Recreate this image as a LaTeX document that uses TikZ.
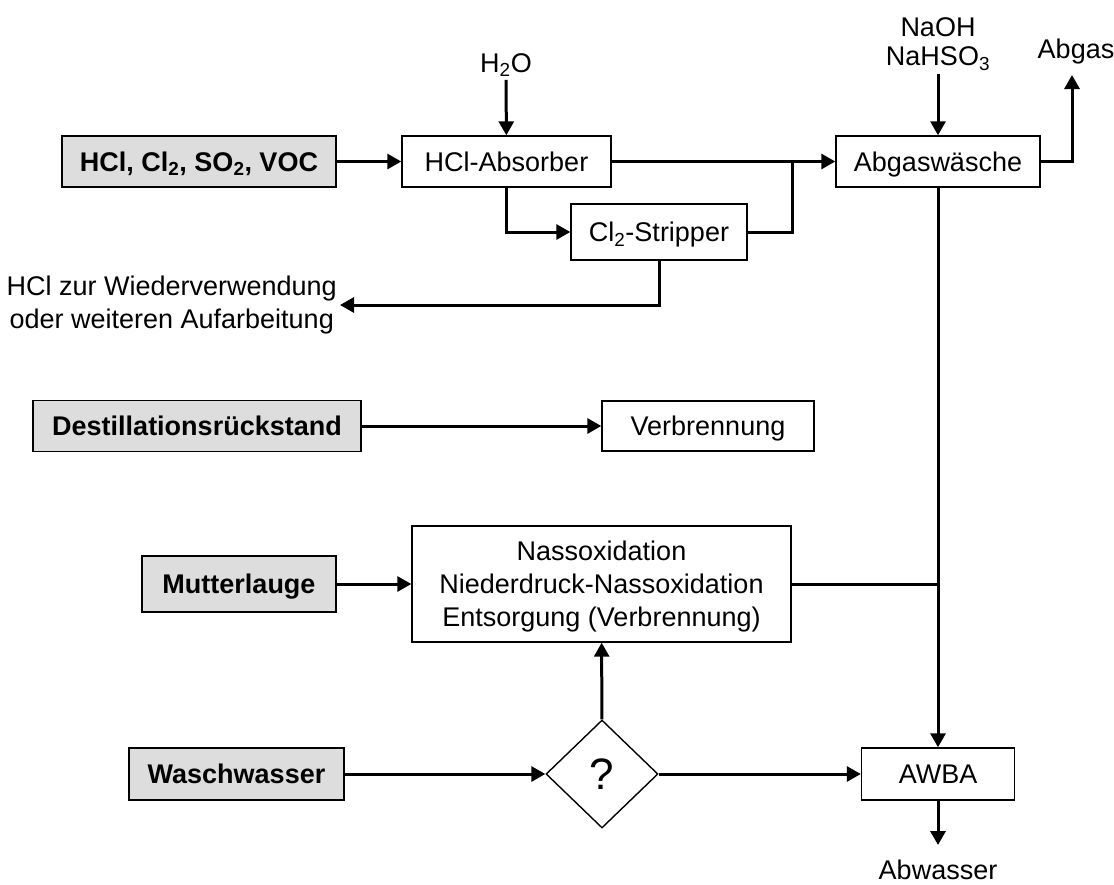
\documentclass[tikz,border=0pt]{standalone}
\usepackage{fontspec}
\setmainfont{Liberation Sans}
\usetikzlibrary{arrows.meta,shapes.geometric}
\definecolor{feedgray}{HTML}{DDDDDD}
\newcommand{\chemsub}[1]{\textsubscript{#1}}

\tikzset{
  unit/.style={draw,line width=1.4pt,inner sep=0pt,align=center,text depth=0pt,
    font=\fontsize{27}{33}\selectfont},
  feed/.style={unit,fill=feedgray,font=\fontsize{27}{33}\selectfont\bfseries},
  tag/.style={inner sep=3pt,align=center,font=\fontsize{27}{33}\selectfont},
  pipe/.style={line width=3pt},
  flow/.style={pipe,-{Triangle[length=14pt,width=15pt]}}
}

\begin{document}
\begin{tikzpicture}[x=1pt,y=-1pt]
 \useasboundingbox (0,0) rectangle (1114,884);
 % feeds on the left
 \node[feed,minimum width=274pt,minimum height=51pt] (gas)   at (199,161.5) {HCl, Cl\chemsub{2}, SO\chemsub{2}, VOC};
 \node[feed,minimum width=328pt,minimum height=51pt] (resid) at (197,426)   {Destillationsrückstand};
 \node[feed,minimum width=194pt,minimum height=56pt] (mother) at (239,584)  {Mutterlauge};
 \node[feed,minimum width=215pt,minimum height=52pt] (wash)  at (236.5,774) {Waschwasser};
 % treatment units
 \node[unit,minimum width=209pt,minimum height=51pt]  (absorber) at (506.5,161.5) {HCl-Absorber};
 \node[unit,minimum width=176pt,minimum height=56pt]  (stripper) at (659,232)     {Cl\chemsub{2}-Stripper};
 \node[unit,minimum width=204pt,minimum height=51pt]  (scrubber) at (938,161.5)   {Abgaswäsche};
 \node[unit,minimum width=212pt,minimum height=50pt]  (burn)     at (708,426)     {Verbrennung};
 \node[unit,minimum width=379pt,minimum height=116pt] (wetox)    at (601.5,584)   {Nassoxidation\\Niederdruck-Nassoxidation\\Entsorgung (Verbrennung)};
 \node[unit,diamond,minimum width=112pt,minimum height=108pt,font=\fontsize{44}{50}\selectfont] (choice) at (602,774) {?};
 \node[unit,minimum width=153pt,minimum height=52pt]  (awba)     at (938,774)     {AWBA};
 % free labels
 \node[tag] (water) at (506,65)  {H\chemsub{2}O};
 \node[tag] (caustic) at (938,44) {NaOH\\[-4pt]NaHSO\chemsub{3}};
 \node[tag] (offgas) at (1076,52) {Abgas};
 \node[tag,anchor=east] (hclout) at (340,305) {HCl zur Wiederverwendung\\oder weiteren Aufarbeitung};
 \node[tag] (effluent) at (938,870) {Abwasser};
 \coordinate (merge) at (792,161.5);
 \coordinate (vent)  at (1072,75);
 \coordinate (drain) at (938,845);

 \draw[flow] (gas) -- (absorber);
 \draw[flow] (water) -- (absorber);
 \draw[flow] (absorber) -- (scrubber);
 \draw[flow] (absorber.south) |- (stripper.west);
 \draw[pipe] (stripper.east) -| (merge);
 \draw[flow] (stripper.south) |- (hclout.east);
 \draw[flow] (caustic) -- (scrubber);
 \draw[flow] (scrubber.east) -| (vent);
 \draw[flow] (resid) -- (burn);
 \draw[flow] (mother) -- (wetox);
 \draw[pipe] (wetox.east) -- (wetox.east -| scrubber.south);
 \draw[flow] (scrubber) -- (awba);
 \draw[flow] (wash) -- (choice);
 \draw[flow] (choice) -- (awba);
 \draw[flow] (choice) -- (wetox);
 \draw[flow] (awba) -- (drain);
\end{tikzpicture}
\end{document}
